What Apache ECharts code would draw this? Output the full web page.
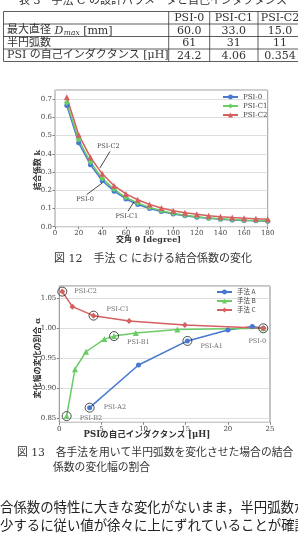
<!DOCTYPE html>
<html><head><meta charset="utf-8">
<script src="https://cdn.jsdelivr.net/npm/echarts@6/dist/echarts.min.js"></script>
<style>html,body{margin:0;padding:0;background:#fff;}#c{width:298px;height:547px;}</style>
</head><body><div id="c"></div>
<script>
// ---------- data ----------
const tableTitle = '表 3　手法 C の設計パラメータと自己インダクタンス';
const tableCols = ['PSI-0', 'PSI-C1', 'PSI-C2'];
const rowDmax = ['60.0', '33.0', '15.0'];
const rowArcs = ['61', '31', '11'];
const rowInduct = ['24.2', '4.06', '0.354'];

const angles = [10,20,30,40,50,60,70,80,90,100,110,120,130,140,150,160,170,180];
const psi0  = [0.665,0.460,0.340,0.252,0.195,0.152,0.122,0.100,0.083,0.070,0.060,0.052,0.046,0.041,0.037,0.034,0.032,0.030];
const psiC1 = [0.680,0.478,0.355,0.265,0.205,0.160,0.130,0.106,0.088,0.074,0.063,0.055,0.048,0.043,0.039,0.036,0.034,0.032];
const psiC2 = [0.710,0.505,0.380,0.290,0.225,0.180,0.148,0.122,0.103,0.088,0.077,0.068,0.060,0.054,0.050,0.047,0.044,0.041];

const annoNames = ['PSI-C2', 'PSI-0', 'PSI-C1'];
const annoTextAt = [[45.1,0.440],[25.4,0.152],[60.7,0.057]];
const annoFrom = [[46.5,0.413],[26.8,0.176],[61.8,0.085]];
const annoTo = [[38.0,0.322],[40.0,0.240],[66.9,0.137]];

const indA = [3.6, 9.4, 15.2, 20.0, 22.9, 24.2];
const alphaA = [0.868, 0.939, 0.979, 0.997, 1.003, 1.000];
const indB = [0.87, 1.86, 3.17, 5.35, 6.5, 9.07, 14.0, 24.2];
const alphaB = [0.854, 0.932, 0.961, 0.982, 0.987, 0.992, 0.998, 1.000];
const indC = [0.354, 1.55, 4.06, 8.28, 14.9, 24.2];
const alphaC = [1.061, 1.036, 1.021, 1.012, 1.0055, 1.000];

const hiNames = ['PSI-C2','PSI-C1','PSI-B1','PSI-A1','PSI-A2','PSI-B2','PSI-0'];
const hiInd = [0.354, 4.06, 6.5, 15.2, 3.6, 0.87, 24.2];
const hiAlpha = [1.061, 1.021, 0.987, 0.979, 0.868, 0.854, 1.000];

const cap12 = '図 12　手法 C における結合係数の変化';
const cap13a = '図 13　各手法を用いて半円弧数を変化させた場合の結合';
const cap13b = '係数の変化幅の割合';
const body1 = '合係数の特性に大きな変化がないまま，半円弧数が減';
const body2 = '少するに従い値が徐々に上にずれていることが確認で';

// ---------- styles ----------
const serif = '"DejaVu Serif", "Liberation Serif", serif';
const mixed = '"DejaVu Serif", "Noto Sans CJK JP", serif';
const cjk = '"Noto Sans CJK JP", sans-serif';
const BLUE = '#4878d0', GREEN = '#6acc64', RED = '#d65f5f';
const TXT = '#444';

const chart = echarts.init(document.getElementById('c'), null, {renderer: 'canvas', width: 298, height: 547});

const labOff = {
  'PSI-C2': {position: 'right', offset: [2, 0]},
  'PSI-C1': {position: 'right', offset: [3, -6]},
  'PSI-B1': {position: 'right', offset: [3, 6]},
  'PSI-A1': {position: 'right', offset: [3, 5]},
  'PSI-A2': {position: 'right', offset: [4, 0]},
  'PSI-B2': {position: 'right', offset: [3, 2]},
  'PSI-0':  {position: 'bottom', offset: [-6, 0]}
};

function lineSeries(name, xs, ys, color, symbol, gi, size) {
  return {
    type: 'line', name: name, xAxisIndex: gi, yAxisIndex: gi,
    data: xs.map((x, i) => [x, ys[i]]),
    symbol: symbol, symbolSize: size, showAllSymbol: true,
    lineStyle: {width: 1.5, color: color}, itemStyle: {color: color},
    emphasis: {disabled: true}, animation: false
  };
}

const tickLabel = {fontSize: 7, fontFamily: serif, color: TXT, margin: 3};
const tickStyle = {show: true, length: 2.5, lineStyle: {color: '#666', width: 0.8}};
const gridLine = {show: true, lineStyle: {color: '#d6d6d6', width: 0.8}};

chart.setOption({
  animation: false,
  grid: [
    {left: 55, top: 90, width: 212.7, height: 136.7, show: true, borderColor: '#9a9a9a', borderWidth: 1, containLabel: false},
    {left: 59.3, top: 286, width: 210.7, height: 136.3, show: true, borderColor: '#888', borderWidth: 1, containLabel: false}
  ],
  xAxis: [
    {gridIndex: 0, type: 'value', min: 0, max: 180, interval: 20,
     axisLine: {show: false}, axisTick: tickStyle, splitLine: {show: false},
     axisLabel: tickLabel},
    {gridIndex: 1, type: 'value', min: 0, max: 25, interval: 5,
     axisLine: {show: false}, axisTick: tickStyle, splitLine: {show: false},
     axisLabel: tickLabel}
  ],
  yAxis: [
    {gridIndex: 0, type: 'value', min: 0, max: 0.75, interval: 0.1,
     axisLine: {show: false}, axisTick: tickStyle, splitLine: gridLine,
     axisLabel: Object.assign({}, tickLabel, {showMaxLabel: false, formatter: v => v.toFixed(1)})},
    {gridIndex: 1, type: 'value', min: 0.8437, max: 1.0703, minInterval: 0.05, maxInterval: 0.05,
     axisLine: {show: false}, axisTick: tickStyle, splitLine: gridLine,
     axisLabel: Object.assign({}, tickLabel, {showMinLabel: false, showMaxLabel: false, formatter: v => v.toFixed(2)})}
  ],
  legend: [
    {data: ['PSI-0', 'PSI-C1', 'PSI-C2'], orient: 'vertical', left: 222, top: 93, padding: 0,
     itemWidth: 15, itemHeight: 6, itemGap: 1, selectedMode: false,
     textStyle: {fontSize: 7, fontFamily: serif, color: TXT, lineHeight: 8}},
    {data: ['手法 A', '手法 B', '手法 C'], orient: 'vertical', left: 216, top: 288, padding: 0,
     itemWidth: 15, itemHeight: 6, itemGap: 1, selectedMode: false,
     textStyle: {fontSize: 6.5, fontFamily: cjk, color: TXT, lineHeight: 8}}
  ],
  series: [
    lineSeries('PSI-0', angles, psi0, BLUE, 'circle', 0, 5),
    lineSeries('PSI-C1', angles, psiC1, GREEN, 'diamond', 0, 6),
    lineSeries('PSI-C2', angles, psiC2, RED, 'triangle', 0, 6),
    lineSeries('手法 A', indA, alphaA, BLUE, 'circle', 1, 5),
    lineSeries('手法 B', indB, alphaB, GREEN, 'triangle', 1, 6),
    lineSeries('手法 C', indC, alphaC, RED, 'diamond', 1, 6),
    {
      type: 'scatter', xAxisIndex: 1, yAxisIndex: 1, z: 5, animation: false,
      symbol: 'circle', symbolSize: 9,
      itemStyle: {color: 'rgba(0,0,0,0)', borderColor: '#222', borderWidth: 1},
      emphasis: {disabled: true},
      data: hiNames.map((n, i) => ({
        value: [hiInd[i], hiAlpha[i]],
        label: Object.assign({show: true, formatter: n, fontSize: 6.5, fontFamily: serif, color: TXT}, labOff[n])
      }))
    }
  ]
});

// ---------- text, table, annotations ----------
const g = [];
function txt(x, y, text, o) {
  g.push({type: 'text', x: x, y: y, silent: true, rotation: (o && o.rot) || 0,
    style: Object.assign({text: text, fill: '#333', fontSize: 11, fontFamily: cjk,
      align: 'left', verticalAlign: 'middle'}, (o && o.style) || {})});
}
function hline(x1, x2, y, c, w) {
  g.push({type: 'line', silent: true, shape: {x1: x1, y1: y, x2: x2, y2: y}, style: {stroke: c || '#333', lineWidth: w || 0.8}});
}
function vline(x, y1, y2, c, w) {
  g.push({type: 'line', silent: true, shape: {x1: x, y1: y1, x2: x, y2: y2}, style: {stroke: c || '#333', lineWidth: w || 0.8}});
}

// title of table (cut at top)
txt(153, 1, tableTitle, {style: {align: 'center', fontFamily: mixed, fontSize: 11}});

// table
const tL = 3.5, tR = 302;
const rowY = [11.5, 24, 36.5, 49, 61.5];
const colX = [tL, 168.7, 209.7, 258, tR];
rowY.forEach(y => hline(tL, tR, y));
colX.forEach(x => vline(x, rowY[0], rowY[4]));
const mid = i => (rowY[i] + rowY[i + 1]) / 2;
const cmid = j => (colX[j + 1] + colX[j + 2]) / 2;
tableCols.forEach((c, j) => txt(cmid(j), mid(0) + 0.5, c, {style: {align: 'center', fontFamily: serif, fontSize: 11}}));
[rowDmax, rowArcs, rowInduct].forEach((r, i) => r.forEach((v, j) =>
  txt(cmid(j), mid(i + 1) + 0.5, v, {style: {align: 'center', fontFamily: serif, fontSize: 11}})));

// row labels
const mctx = document.createElement('canvas').getContext('2d');
function w(text, font) { mctx.font = font; return mctx.measureText(text).width; }
let x0 = 7;
const f11 = '11px ' + mixed;
txt(x0, mid(1), '最大直径 ', {style: {fontFamily: mixed}});
x0 += w('最大直径 ', f11);
txt(x0, mid(1) + 0.5, 'D', {style: {fontFamily: serif, fontStyle: 'italic'}});
x0 += w('D', 'italic 11px ' + serif) + 0.5;
txt(x0, mid(1) + 3, 'max', {style: {fontFamily: serif, fontStyle: 'italic', fontSize: 7.5}});
x0 += w('max', 'italic 7.5px ' + serif);
txt(x0, mid(1) + 0.5, ' [mm]', {style: {fontFamily: serif}});
txt(7, mid(2), '半円弧数', {style: {fontFamily: mixed}});
txt(7, mid(3), 'PSI の自己インダクタンス [μH]', {style: {fontFamily: mixed}});

// axis names
txt(148.5, 240, '交角 θ [degree]', {style: {align: 'center', fontSize: 8, fontWeight: 'bold', fontFamily: mixed, fill: '#333'}});
txt(37.5, 170, '結合係数 k', {rot: Math.PI / 2, style: {align: 'center', fontSize: 8, fontWeight: 'bold', fontFamily: mixed, fill: '#333'}});
txt(147, 435, 'PSIの自己インダクタンス [μH]', {style: {align: 'center', fontSize: 8.5, fontWeight: 'bold', fontFamily: mixed, fill: '#333'}});
txt(37.5, 358, '変化幅の変化の割合 α', {rot: Math.PI / 2, style: {align: 'center', fontSize: 8, fontWeight: 'bold', fontFamily: mixed, fill: '#333'}});

// captions & body
txt(153, 259, cap12, {style: {align: 'center', fontFamily: mixed, fontSize: 11}});
txt(17, 453, cap13a, {style: {fontFamily: mixed, fontSize: 10.8}});
txt(53, 468, cap13b, {style: {fontFamily: mixed, fontSize: 10.8}});
txt(0, 507, body1, {style: {fontFamily: cjk, fontSize: 13.4, fill: '#222'}});
txt(0, 524.5, body2, {style: {fontFamily: cjk, fontSize: 13.4, fill: '#222'}});

// annotations (chart 1) converted from data coordinates
annoNames.forEach((n, i) => {
  const p = chart.convertToPixel({gridIndex: 0}, annoTextAt[i]);
  const a = chart.convertToPixel({gridIndex: 0}, annoFrom[i]);
  const b = chart.convertToPixel({gridIndex: 0}, annoTo[i]);
  txt(p[0], p[1], n, {style: {align: 'center', fontFamily: serif, fontSize: 6.5, fill: TXT}});
  g.push({type: 'line', silent: true, z: 10, shape: {x1: a[0], y1: a[1], x2: b[0], y2: b[1]}, style: {stroke: '#333', lineWidth: 0.9}});
});

chart.setOption({graphic: g});
</script></body></html>
